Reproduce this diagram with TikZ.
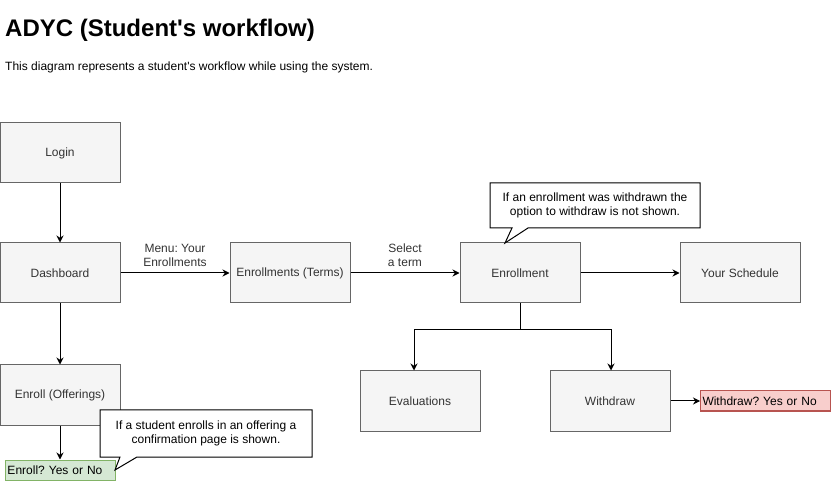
\documentclass[tikz,border=0pt]{standalone}
\usepackage{fontspec}
\setmainfont{Liberation Sans}[Ligatures=TeXOff]
\usetikzlibrary{arrows.meta}
\definecolor{boxfill}{HTML}{F5F5F5}
\definecolor{boxdraw}{HTML}{666666}
\definecolor{boxtext}{HTML}{333333}
\definecolor{redfill}{HTML}{F8CECC}
\definecolor{reddraw}{HTML}{B85450}
\definecolor{greenfill}{HTML}{D5E8D4}
\definecolor{greendraw}{HTML}{82B366}
\tikzset{
  stepbox/.style={draw=boxdraw, fill=boxfill, text=boxtext, line width=1pt,
    minimum width=120pt, minimum height=60pt, inner sep=0pt,
    font=\fontsize{12}{14}\selectfont},
  answer/.style={line width=1pt, minimum height=20pt, inner xsep=2pt, inner ysep=0pt,
    align=left, anchor=west, font=\fontsize{12}{14}\selectfont, text=black},
  arr/.style={-{Stealth[length=7pt,width=7pt]}, line width=1pt, black},
  lbl/.style={font=\fontsize{12}{14}\selectfont, text=boxtext, align=center, inner sep=0pt},
  callout/.style={draw=black, fill=white, line width=1pt},
  calltext/.style={font=\fontsize{12}{14}\selectfont, align=center, text=black, inner sep=0pt},
}
\begin{document}
\frenchspacing
\begin{tikzpicture}[x=1pt,y=-1pt]
\useasboundingbox (0,0) rectangle (831,481);
\node[anchor=base west, inner sep=0pt, font=\bfseries\fontsize{24}{28}\selectfont] (title) at (5,37) {ADYC (Student's workflow)};
\node[anchor=base west, inner sep=0pt, font=\fontsize{12}{14}\selectfont] (sub) at (5,71) {This diagram represents a student's workflow while using the system.};

\node[stepbox] (login) at (60,153) {Login};
\node[stepbox] (dash) at (60,273) {Dashboard};
\node[stepbox] (offer) at (60,395) {Enroll (Offerings)};
\node[stepbox] (terms) at (290,273) {Enrollments (Terms)};
\node[stepbox] (enr) at (520,273) {Enrollment};
\node[stepbox] (sched) at (740,273) {Your Schedule};
\node[stepbox] (eval) at (420,401) {Evaluations};
\node[stepbox] (wd) at (610,401) {Withdraw};

\node[answer, draw=greendraw, fill=greenfill, text width=106pt] (enrq) at (5,470) {Enroll? Yes or No};
\node[answer, draw=reddraw, fill=redfill, text width=126pt] (wdq) at (700,401) {Withdraw? Yes or No};

\coordinate (br) at (520,330);
\draw[arr] (login) -- (dash);
\draw[arr] (dash) -- (offer);
\draw[arr] (offer.south) -- (enrq.north -| offer.south);
\draw[arr] (dash) -- node[lbl, above=6pt] {Menu: Your\\Enrollments} (terms);
\draw[arr] (terms) -- node[lbl, above=6pt] {Select\\a term} (enr);
\draw[arr] (enr) -- (sched);
\draw[line width=1pt] (enr.south) -- (br);
\draw[arr] (br) -| ([xshift=-6pt]eval.north);
\draw[arr] (br) -| ([xshift=1pt]wd.north);
\draw[arr] (wd) -- (wdq);

% callouts
\draw[callout] (490,183) -- (700,183) -- (700,228) -- (528,228) -- (505,243) -- (512,228) -- (490,228) -- cycle;
\node[calltext] (c1) at (595,205.5) {If an enrollment was withdrawn the\\option to withdraw is not shown.};
\draw[callout] (100,410) -- (312,410) -- (312,457) -- (137,457) -- (115,470) -- (120,457) -- (100,457) -- cycle;
\node[calltext] (c2) at (206,433.5) {If a student enrolls in an offering a\\confirmation page is shown.};
\end{tikzpicture}
\end{document}
